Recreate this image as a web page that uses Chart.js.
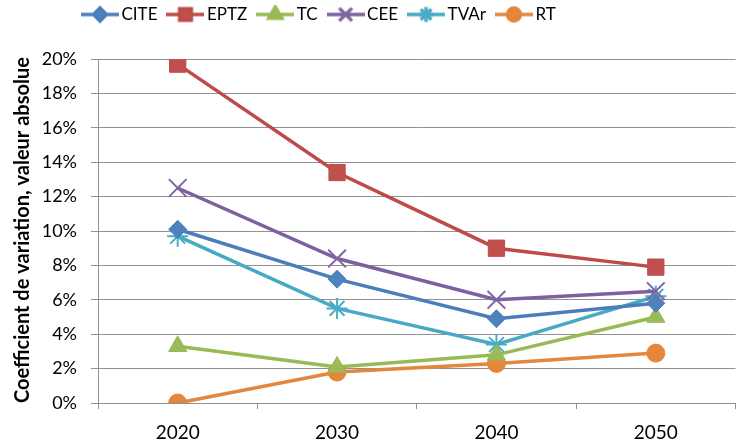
<!DOCTYPE html>
<html>
<head>
<meta charset="utf-8">
<script src="https://cdn.jsdelivr.net/npm/chart.js@4.4.1/dist/chart.umd.min.js"></script>
<style>
  html, body { margin: 0; padding: 0; background: #fff; overflow: hidden; }
  #wrap { position: relative; width: 750px; height: 442px; }
</style>
</head>
<body>
<div id="wrap"><canvas id="chart"></canvas></div>
<script>
// Chart data
const years = ['2020', '2030', '2040', '2050'];
const cite = [10.1, 7.2, 4.9, 5.8];
const eptz = [19.7, 13.4, 9.0, 7.9];
const tc = [3.3, 2.1, 2.8, 5.0];
const cee = [12.5, 8.4, 6.0, 6.5];
const tvar = [9.7, 5.5, 3.4, 6.2];
const rt = [0.0, 1.8, 2.3, 2.9];
const yTicks = [0, 2, 4, 6, 8, 10, 12, 14, 16, 18, 20];

const gridColor = '#919191';
const font = "Lato, 'Liberation Sans', sans-serif";

function series(label, data, line, fill, style, radius, bw) {
    return {
        label: label,
        data: data,
        borderColor: line,
        backgroundColor: fill,
        borderWidth: 3.5,
        pointStyle: style,
        pointRadius: radius,
        pointHoverRadius: radius,
        pointBackgroundColor: fill,
        pointBorderColor: style === 'crossRot' || style === 'star' ? fill : line,
        pointBorderWidth: bw,
        tension: 0
    };
}

const datasets = [
    series('CITE', cite, '#4A7EBB', '#4F81BD', 'rectRot', 9, 1),
    series('EPTZ', eptz, '#BE4B48', '#C0504D', 'rect', 11.5, 1),
    series('TC', tc, '#98B954', '#9BBB59', 'triangle', 10.5, 1),
    series('CEE', cee, '#7D60A0', '#8064A2', 'crossRot', 12.5, 2),
    series('TVAr', tvar, '#46AAC5', '#4BACC6', 'star', 10.5, 2),
    series('RT', rt, '#E4863D', '#E6863A', 'circle', 9, 1)
];

// legend swatch: short line with the marker in the middle
function swatch(ds) {
    const c = document.createElement('canvas');
    c.width = 38;
    c.height = 20;
    const ctx = c.getContext('2d');
    ctx.strokeStyle = ds.borderColor;
    ctx.lineWidth = 3.5;
    ctx.beginPath();
    ctx.moveTo(0, 10);
    ctx.lineTo(38, 10);
    ctx.stroke();
    ctx.fillStyle = ds.pointBackgroundColor;
    ctx.strokeStyle = ds.pointBorderColor;
    Chart.helpers.drawPoint(ctx, {
        pointStyle: ds.pointStyle,
        radius: ds.pointRadius * 0.72,
        rotation: 0,
        borderWidth: ds.pointBorderWidth
    }, 19, 10);
    return c;
}

// move the legend row to where the original has it
const legendShift = {
    id: 'legendShift',
    afterLayout(chart) {
        const lg = chart.legend;
        const w = lg.right - lg.left;
        const h = lg.bottom - lg.top;
        lg.left = 72;
        lg.right = 72 + w;
        lg.top -= 26;
        lg.bottom = lg.top + h;
    }
};

new Chart(document.getElementById('chart'), {
    type: 'line',
    data: { labels: years, datasets: datasets },
    plugins: [legendShift],
    options: {
        responsive: true,
        maintainAspectRatio: false,
        animation: false,
        layout: { padding: { left: 0, right: 4, top: 17, bottom: 0 } },
        plugins: {
            tooltip: { enabled: false },
            legend: {
                position: 'top',
                align: 'start',
                labels: {
                    usePointStyle: true,
                    pointStyleWidth: 26,
                    padding: 15,
                    color: '#000',
                    font: { family: font, size: 17 },
                    generateLabels(chart) {
                        return chart.data.datasets.map((ds, i) => ({
                            text: ds.label,
                            datasetIndex: i,
                            pointStyle: swatch(ds),
                            fillStyle: ds.backgroundColor,
                            strokeStyle: ds.borderColor,
                            lineWidth: 0,
                            hidden: false,
                            fontColor: '#000'
                        }));
                    }
                }
            }
        },
        scales: {
            x: {
                offset: true,
                afterFit(axis) {
                    axis.height = 39;
                },
                grid: {
                    offset: true,
                    drawOnChartArea: false,
                    drawTicks: true,
                    tickLength: 6,
                    color: gridColor
                },
                border: { display: true, color: gridColor, width: 1 },
                ticks: {
                    color: '#000',
                    padding: 12,
                    font: { family: font, size: 19 }
                }
            },
            y: {
                min: 0,
                max: 20,
                afterBuildTicks(axis) {
                    axis.ticks = yTicks.map(v => ({ value: v }));
                },
                afterFit(axis) {
                    axis.width = 98;
                },
                grid: {
                    color: gridColor,
                    lineWidth: 1,
                    drawTicks: true,
                    tickLength: 7
                },
                border: { display: true, color: gridColor, width: 1 },
                ticks: {
                    color: '#000',
                    padding: 14,
                    font: { family: font, size: 18 },
                    callback: v => v + '%'
                },
                title: {
                    display: true,
                    align: 'start',
                    text: 'Coefficient de variation, valeur absolue',
                    color: '#000',
                    font: { family: font, size: 20, weight: 'bold' },
                    padding: { top: 11, bottom: 0 }
                }
            }
        }
    }
});
</script>
</body>
</html>
